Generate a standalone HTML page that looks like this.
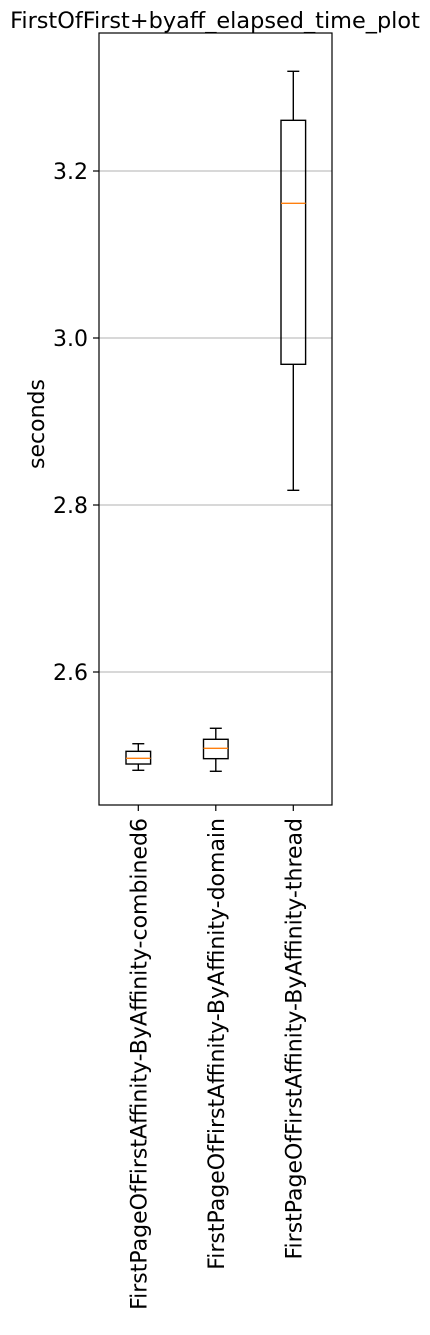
<!DOCTYPE html>
<html><head><meta charset="utf-8"><style>
html,body{margin:0;padding:0;background:#fff;}
svg text{font-family:"DejaVu Sans","Liberation Sans",sans-serif;fill:#000;}
</style></head><body>
<svg id="chart" width="430" height="1330" xmlns="http://www.w3.org/2000/svg">
<text x="215" y="28" font-size="22.4" text-anchor="middle">FirstOfFirst+byaff_elapsed_time_plot</text>
<text transform="translate(44,424) rotate(-90)" font-size="22" text-anchor="middle">seconds</text>
<g id="grid"></g><g id="boxes"></g><g id="axes"></g>
</svg>
<script>
const categories = ["FirstPageOfFirstAffinity-ByAffinity-combined6","FirstPageOfFirstAffinity-ByAffinity-domain","FirstPageOfFirstAffinity-ByAffinity-thread"];
const whiskerLow = [2.4823, 2.4811, 2.8176];
const q1 = [2.4898, 2.4962, 2.9685];
const median = [2.4966, 2.5086, 3.1613];
const q3 = [2.5050, 2.5194, 3.2607];
const whiskerHigh = [2.5141, 2.5326, 3.3194];
const yTicks = [2.6, 2.8, 3.0, 3.2];
const yTickLabels = ["2.6","2.8","3.0","3.2"];

const L=99,R=332,T=33,B=805;
const y = v => 338 - (v-3.0)*835;
const x = i => 138.3 + i*77.5;
const NS="http://www.w3.org/2000/svg";
function mk(tag,attrs,parent){const e=document.createElementNS(NS,tag);for(const k in attrs)e.setAttribute(k,attrs[k]);parent.appendChild(e);return e;}
const grid=document.getElementById('grid'),boxes=document.getElementById('boxes'),axes=document.getElementById('axes');
yTicks.forEach((t,i)=>{
  const g=mk('line',{x1:L,x2:R,y1:y(t),y2:y(t),stroke:'#b0b0b0','stroke-width':1.1},grid);
  
  
  const tk=mk('line',{x1:L-6,x2:L,y1:y(t),y2:y(t),stroke:'#000','stroke-width':1.2},axes);
  
  
  const tl=mk('text',{x:L-11,y:y(t)+8,'font-size':22,'text-anchor':'end'},axes);
  tl.textContent=yTickLabels[i];
  
  
});
const fr=mk('rect',{x:L,y:T,width:R-L,height:B-T,fill:'none',stroke:'#000','stroke-width':1.2},axes);


const hw=12.3, cw=6;
categories.forEach((c,i)=>{
  const cx=x(i);
  const g=mk('g',{},boxes);
  
  
  const sw=1.4;
  mk('line',{x1:cx,x2:cx,y1:y(whiskerHigh[i]),y2:y(q3[i]),stroke:'#000','stroke-width':sw},g);
  mk('line',{x1:cx,x2:cx,y1:y(q1[i]),y2:y(whiskerLow[i]),stroke:'#000','stroke-width':sw},g);
  mk('line',{x1:cx-cw,x2:cx+cw,y1:y(whiskerHigh[i]),y2:y(whiskerHigh[i]),stroke:'#000','stroke-width':sw},g);
  mk('line',{x1:cx-cw,x2:cx+cw,y1:y(whiskerLow[i]),y2:y(whiskerLow[i]),stroke:'#000','stroke-width':sw},g);
  mk('rect',{x:cx-hw,y:y(q3[i]),width:2*hw,height:y(q1[i])-y(q3[i]),fill:'none',stroke:'#000','stroke-width':sw},g);
  mk('line',{x1:cx-hw,x2:cx+hw,y1:y(median[i]),y2:y(median[i]),stroke:'#ff7f0e','stroke-width':sw},g);
  const tk=mk('line',{x1:cx,x2:cx,y1:B,y2:B+6,stroke:'#000','stroke-width':1.2},axes);
  
  
  const tl=mk('text',{transform:`translate(${cx+8},${B+13}) rotate(-90)`,'font-size':22,'text-anchor':'end'},axes);
  tl.textContent=c;
  
  
});
</script>
</body></html>
